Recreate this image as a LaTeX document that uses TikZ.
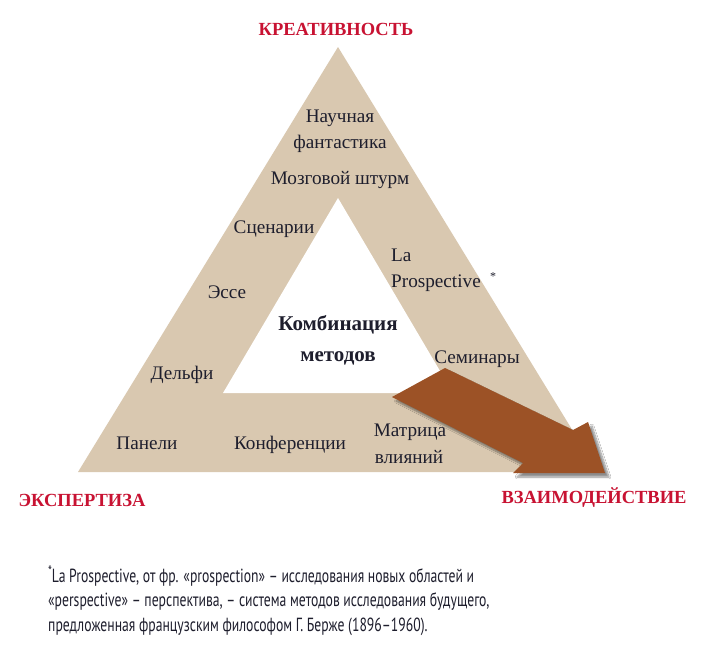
\documentclass[tikz,border=0pt]{standalone}
\usepackage{fontspec}
\setmainfont{Liberation Serif}
\newfontfamily\fnfont[FakeStretch=0.72]{PT Sans}
\usetikzlibrary{shadows.blur}
\definecolor{tanfill}{RGB}{217,200,176}
\definecolor{arrowbrown}{RGB}{156,82,38}
\definecolor{headred}{RGB}{200,18,50}
\definecolor{ink}{RGB}{30,30,45}
\begin{document}
\begin{tikzpicture}[x=1pt,y=-1pt,
  lbl/.style={font=\fontsize{19.2}{26}\selectfont, text=ink, inner sep=0pt, anchor=base},
  head/.style={font=\bfseries\fontsize{18.5}{20}\selectfont, text=headred, inner sep=0pt, anchor=base},
  core/.style={font=\bfseries\fontsize{21}{26}\selectfont, text=ink, inner sep=0pt, anchor=base}]
\useasboundingbox[fill=white] (0,0) rectangle (719,665);
% triangle band
\fill[tanfill] (338,47) -- (78,472) -- (598,472) -- cycle;
\fill[white] (338,198) -- (223,393) -- (453,393) -- cycle;
% arrow
\fill[arrowbrown, blur shadow={shadow xshift=4pt, shadow yshift=-4pt, shadow blur steps=8, shadow opacity=45}]
  (445,368) -- (573,430) -- (588,422) -- (605,473) -- (513,473) -- (523,463) -- (392,397) -- cycle;
% corner labels
\node[head] (cre) at (336,35) {КРЕАТИВНОСТЬ};
\node[head] (exp) at (82,506) {ЭКСПЕРТИЗА};
\node[head] (vz) at (594,503) {ВЗАИМОДЕЙСТВИЕ};
% methods
\node[lbl] (sf1) at (340,122) {Научная};
\node[lbl] (sf2) at (340,148) {фантастика};
\node[lbl] (brain) at (340,184) {Мозговой штурм};
\node[lbl] (scen) at (274,233) {Сценарии};
\node[lbl, anchor=base west] (la) at (391,261) {La};
\node[lbl, anchor=base west] (pros) at (391,287) {Prospective};
\node[font=\fontsize{12}{12}\selectfont, text=ink, inner sep=0pt] (ast) at (493,277) {*};
\node[lbl] (esse) at (227,298) {Эссе};
\node[core] (comb1) at (338,330) {Комбинация};
\node[core] (comb2) at (338,361) {методов};
\node[lbl] (sem) at (477,363) {Семинары};
\node[lbl] (delf) at (182,379) {Дельфи};
\node[lbl] (pan) at (147,449) {Панели};
\node[lbl] (conf) at (290,449) {Конференции};
\node[lbl] (mat1) at (410,436) {Матрица};
\node[lbl] (mat2) at (409,463) {влияний};
% footnote
\node[font=\fnfont\fontsize{19}{24.5}\selectfont, text=ink, inner sep=0pt, anchor=base west, align=left] (fn) at (48,631)
  {\raisebox{0.3em}{\fontsize{15}{15}\selectfont *}La Prospective, от фр. «prospection» – исследования новых областей и\\
   «perspective» – перспектива, – система методов исследования будущего,\\
   предложенная французским философом Г. Берже (1896–1960).};
\end{tikzpicture}
\end{document}
